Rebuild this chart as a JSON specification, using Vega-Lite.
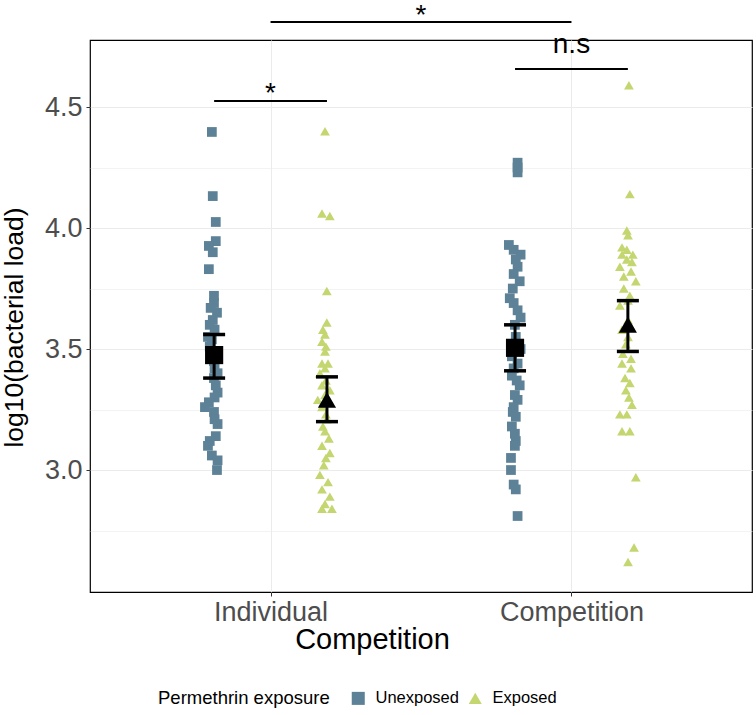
{
  "$schema": "https://vega.github.io/schema/vega-lite/v6.json",
  "width": 662,
  "height": 552,
  "autosize": "none",
  "padding": {"left": 90, "top": 40, "right": 4, "bottom": 123},
  "config": {
    "font": "Liberation Sans",
    "view": {"stroke": "#000000", "strokeWidth": 1.2},
    "axis": {"domain": false, "gridColor": "#ebebeb", "tickColor": "#333333", "tickSize": 4, "labelColor": "#4d4d4d", "labelFontSize": 27, "titleFontSize": 25, "titleFontWeight": "normal", "titleColor": "#000000"}
  },
  "datasets": {
    "points": [
      {"c": "Individual", "e": "Unexposed", "x": 0.805, "y": 4.397},
      {"c": "Individual", "e": "Unexposed", "x": 0.808, "y": 4.132},
      {"c": "Individual", "e": "Unexposed", "x": 0.818, "y": 4.025},
      {"c": "Individual", "e": "Unexposed", "x": 0.818, "y": 3.946},
      {"c": "Individual", "e": "Unexposed", "x": 0.795, "y": 3.926},
      {"c": "Individual", "e": "Unexposed", "x": 0.808, "y": 3.90},
      {"c": "Individual", "e": "Unexposed", "x": 0.795, "y": 3.83},
      {"c": "Individual", "e": "Unexposed", "x": 0.812, "y": 3.72},
      {"c": "Individual", "e": "Unexposed", "x": 0.812, "y": 3.69},
      {"c": "Individual", "e": "Unexposed", "x": 0.801, "y": 3.67},
      {"c": "Individual", "e": "Unexposed", "x": 0.822, "y": 3.65},
      {"c": "Individual", "e": "Unexposed", "x": 0.808, "y": 3.62},
      {"c": "Individual", "e": "Unexposed", "x": 0.798, "y": 3.60},
      {"c": "Individual", "e": "Unexposed", "x": 0.814, "y": 3.58},
      {"c": "Individual", "e": "Unexposed", "x": 0.792, "y": 3.55},
      {"c": "Individual", "e": "Unexposed", "x": 0.805, "y": 3.54},
      {"c": "Individual", "e": "Unexposed", "x": 0.798, "y": 3.51},
      {"c": "Individual", "e": "Unexposed", "x": 0.818, "y": 3.48},
      {"c": "Individual", "e": "Unexposed", "x": 0.812, "y": 3.45},
      {"c": "Individual", "e": "Unexposed", "x": 0.814, "y": 3.42},
      {"c": "Individual", "e": "Unexposed", "x": 0.824, "y": 3.40},
      {"c": "Individual", "e": "Unexposed", "x": 0.812, "y": 3.38},
      {"c": "Individual", "e": "Unexposed", "x": 0.818, "y": 3.35},
      {"c": "Individual", "e": "Unexposed", "x": 0.824, "y": 3.32},
      {"c": "Individual", "e": "Unexposed", "x": 0.814, "y": 3.30},
      {"c": "Individual", "e": "Unexposed", "x": 0.795, "y": 3.28},
      {"c": "Individual", "e": "Unexposed", "x": 0.782, "y": 3.26},
      {"c": "Individual", "e": "Unexposed", "x": 0.812, "y": 3.24},
      {"c": "Individual", "e": "Unexposed", "x": 0.814, "y": 3.21},
      {"c": "Individual", "e": "Unexposed", "x": 0.824, "y": 3.19},
      {"c": "Individual", "e": "Unexposed", "x": 0.818, "y": 3.14},
      {"c": "Individual", "e": "Unexposed", "x": 0.798, "y": 3.12},
      {"c": "Individual", "e": "Unexposed", "x": 0.792, "y": 3.10},
      {"c": "Individual", "e": "Unexposed", "x": 0.805, "y": 3.06},
      {"c": "Individual", "e": "Unexposed", "x": 0.824, "y": 3.04},
      {"c": "Individual", "e": "Unexposed", "x": 0.822, "y": 3.00},
      {"c": "Individual", "e": "Exposed", "x": 1.181, "y": 4.40},
      {"c": "Individual", "e": "Exposed", "x": 1.171, "y": 4.06},
      {"c": "Individual", "e": "Exposed", "x": 1.197, "y": 4.05},
      {"c": "Individual", "e": "Exposed", "x": 1.187, "y": 3.74},
      {"c": "Individual", "e": "Exposed", "x": 1.187, "y": 3.61},
      {"c": "Individual", "e": "Exposed", "x": 1.174, "y": 3.58},
      {"c": "Individual", "e": "Exposed", "x": 1.181, "y": 3.56},
      {"c": "Individual", "e": "Exposed", "x": 1.171, "y": 3.53},
      {"c": "Individual", "e": "Exposed", "x": 1.184, "y": 3.51},
      {"c": "Individual", "e": "Exposed", "x": 1.181, "y": 3.49},
      {"c": "Individual", "e": "Exposed", "x": 1.171, "y": 3.44},
      {"c": "Individual", "e": "Exposed", "x": 1.191, "y": 3.44},
      {"c": "Individual", "e": "Exposed", "x": 1.181, "y": 3.42},
      {"c": "Individual", "e": "Exposed", "x": 1.164, "y": 3.40},
      {"c": "Individual", "e": "Exposed", "x": 1.184, "y": 3.37},
      {"c": "Individual", "e": "Exposed", "x": 1.171, "y": 3.35},
      {"c": "Individual", "e": "Exposed", "x": 1.197, "y": 3.33},
      {"c": "Individual", "e": "Exposed", "x": 1.181, "y": 3.31},
      {"c": "Individual", "e": "Exposed", "x": 1.157, "y": 3.29},
      {"c": "Individual", "e": "Exposed", "x": 1.171, "y": 3.26},
      {"c": "Individual", "e": "Exposed", "x": 1.184, "y": 3.23},
      {"c": "Individual", "e": "Exposed", "x": 1.187, "y": 3.21},
      {"c": "Individual", "e": "Exposed", "x": 1.174, "y": 3.18},
      {"c": "Individual", "e": "Exposed", "x": 1.181, "y": 3.16},
      {"c": "Individual", "e": "Exposed", "x": 1.194, "y": 3.13},
      {"c": "Individual", "e": "Exposed", "x": 1.171, "y": 3.10},
      {"c": "Individual", "e": "Exposed", "x": 1.197, "y": 3.07},
      {"c": "Individual", "e": "Exposed", "x": 1.184, "y": 3.05},
      {"c": "Individual", "e": "Exposed", "x": 1.177, "y": 3.02},
      {"c": "Individual", "e": "Exposed", "x": 1.164, "y": 2.98},
      {"c": "Individual", "e": "Exposed", "x": 1.191, "y": 2.95},
      {"c": "Individual", "e": "Exposed", "x": 1.171, "y": 2.92},
      {"c": "Individual", "e": "Exposed", "x": 1.197, "y": 2.89},
      {"c": "Individual", "e": "Exposed", "x": 1.181, "y": 2.86},
      {"c": "Individual", "e": "Exposed", "x": 1.171, "y": 2.84},
      {"c": "Individual", "e": "Exposed", "x": 1.204, "y": 2.84},
      {"c": "Competition", "e": "Unexposed", "x": 1.821, "y": 4.27},
      {"c": "Competition", "e": "Unexposed", "x": 1.821, "y": 4.25},
      {"c": "Competition", "e": "Unexposed", "x": 1.821, "y": 4.23},
      {"c": "Competition", "e": "Unexposed", "x": 1.792, "y": 3.93},
      {"c": "Competition", "e": "Unexposed", "x": 1.808, "y": 3.91},
      {"c": "Competition", "e": "Unexposed", "x": 1.831, "y": 3.89},
      {"c": "Competition", "e": "Unexposed", "x": 1.815, "y": 3.87},
      {"c": "Competition", "e": "Unexposed", "x": 1.821, "y": 3.84},
      {"c": "Competition", "e": "Unexposed", "x": 1.808, "y": 3.81},
      {"c": "Competition", "e": "Unexposed", "x": 1.828, "y": 3.78},
      {"c": "Competition", "e": "Unexposed", "x": 1.805, "y": 3.75},
      {"c": "Competition", "e": "Unexposed", "x": 1.795, "y": 3.71},
      {"c": "Competition", "e": "Unexposed", "x": 1.808, "y": 3.69},
      {"c": "Competition", "e": "Unexposed", "x": 1.821, "y": 3.66},
      {"c": "Competition", "e": "Unexposed", "x": 1.831, "y": 3.63},
      {"c": "Competition", "e": "Unexposed", "x": 1.812, "y": 3.60},
      {"c": "Competition", "e": "Unexposed", "x": 1.815, "y": 3.55},
      {"c": "Competition", "e": "Unexposed", "x": 1.831, "y": 3.50},
      {"c": "Competition", "e": "Unexposed", "x": 1.802, "y": 3.47},
      {"c": "Competition", "e": "Unexposed", "x": 1.821, "y": 3.44},
      {"c": "Competition", "e": "Unexposed", "x": 1.808, "y": 3.42},
      {"c": "Competition", "e": "Unexposed", "x": 1.802, "y": 3.39},
      {"c": "Competition", "e": "Unexposed", "x": 1.818, "y": 3.37},
      {"c": "Competition", "e": "Unexposed", "x": 1.828, "y": 3.35},
      {"c": "Competition", "e": "Unexposed", "x": 1.812, "y": 3.31},
      {"c": "Competition", "e": "Unexposed", "x": 1.821, "y": 3.29},
      {"c": "Competition", "e": "Unexposed", "x": 1.808, "y": 3.26},
      {"c": "Competition", "e": "Unexposed", "x": 1.805, "y": 3.24},
      {"c": "Competition", "e": "Unexposed", "x": 1.815, "y": 3.22},
      {"c": "Competition", "e": "Unexposed", "x": 1.802, "y": 3.18},
      {"c": "Competition", "e": "Unexposed", "x": 1.812, "y": 3.15},
      {"c": "Competition", "e": "Unexposed", "x": 1.815, "y": 3.12},
      {"c": "Competition", "e": "Unexposed", "x": 1.812, "y": 3.10},
      {"c": "Competition", "e": "Unexposed", "x": 1.799, "y": 3.05},
      {"c": "Competition", "e": "Unexposed", "x": 1.799, "y": 3.00},
      {"c": "Competition", "e": "Unexposed", "x": 1.808, "y": 2.94},
      {"c": "Competition", "e": "Unexposed", "x": 1.815, "y": 2.92},
      {"c": "Competition", "e": "Unexposed", "x": 1.821, "y": 2.81},
      {"c": "Competition", "e": "Exposed", "x": 2.191, "y": 4.59},
      {"c": "Competition", "e": "Exposed", "x": 2.194, "y": 4.14},
      {"c": "Competition", "e": "Exposed", "x": 2.184, "y": 3.99},
      {"c": "Competition", "e": "Exposed", "x": 2.188, "y": 3.97},
      {"c": "Competition", "e": "Exposed", "x": 2.168, "y": 3.92},
      {"c": "Competition", "e": "Exposed", "x": 2.184, "y": 3.91},
      {"c": "Competition", "e": "Exposed", "x": 2.168, "y": 3.89},
      {"c": "Competition", "e": "Exposed", "x": 2.204, "y": 3.89},
      {"c": "Competition", "e": "Exposed", "x": 2.184, "y": 3.87},
      {"c": "Competition", "e": "Exposed", "x": 2.201, "y": 3.86},
      {"c": "Competition", "e": "Exposed", "x": 2.161, "y": 3.84},
      {"c": "Competition", "e": "Exposed", "x": 2.198, "y": 3.82},
      {"c": "Competition", "e": "Exposed", "x": 2.174, "y": 3.80},
      {"c": "Competition", "e": "Exposed", "x": 2.214, "y": 3.78},
      {"c": "Competition", "e": "Exposed", "x": 2.174, "y": 3.75},
      {"c": "Competition", "e": "Exposed", "x": 2.194, "y": 3.72},
      {"c": "Competition", "e": "Exposed", "x": 2.188, "y": 3.70},
      {"c": "Competition", "e": "Exposed", "x": 2.161, "y": 3.68},
      {"c": "Competition", "e": "Exposed", "x": 2.188, "y": 3.62},
      {"c": "Competition", "e": "Exposed", "x": 2.194, "y": 3.60},
      {"c": "Competition", "e": "Exposed", "x": 2.168, "y": 3.58},
      {"c": "Competition", "e": "Exposed", "x": 2.188, "y": 3.55},
      {"c": "Competition", "e": "Exposed", "x": 2.181, "y": 3.52},
      {"c": "Competition", "e": "Exposed", "x": 2.171, "y": 3.48},
      {"c": "Competition", "e": "Exposed", "x": 2.198, "y": 3.46},
      {"c": "Competition", "e": "Exposed", "x": 2.168, "y": 3.44},
      {"c": "Competition", "e": "Exposed", "x": 2.198, "y": 3.42},
      {"c": "Competition", "e": "Exposed", "x": 2.178, "y": 3.38},
      {"c": "Competition", "e": "Exposed", "x": 2.194, "y": 3.36},
      {"c": "Competition", "e": "Exposed", "x": 2.181, "y": 3.33},
      {"c": "Competition", "e": "Exposed", "x": 2.191, "y": 3.30},
      {"c": "Competition", "e": "Exposed", "x": 2.201, "y": 3.27},
      {"c": "Competition", "e": "Exposed", "x": 2.161, "y": 3.23},
      {"c": "Competition", "e": "Exposed", "x": 2.184, "y": 3.23},
      {"c": "Competition", "e": "Exposed", "x": 2.168, "y": 3.16},
      {"c": "Competition", "e": "Exposed", "x": 2.194, "y": 3.16},
      {"c": "Competition", "e": "Exposed", "x": 2.214, "y": 2.97},
      {"c": "Competition", "e": "Exposed", "x": 2.208, "y": 2.68},
      {"c": "Competition", "e": "Exposed", "x": 2.188, "y": 2.62}
    ],
    "means": [
      {"c": "Individual", "e": "Unexposed", "x": 0.8125, "mean": 3.475, "lo": 3.38, "hi": 3.56},
      {"c": "Individual", "e": "Exposed", "x": 1.1875, "mean": 3.29, "lo": 3.20, "hi": 3.385},
      {"c": "Competition", "e": "Unexposed", "x": 1.8125, "mean": 3.505, "lo": 3.41, "hi": 3.60},
      {"c": "Competition", "e": "Exposed", "x": 2.1875, "mean": 3.60, "lo": 3.49, "hi": 3.70}
    ],
    "brackets": [
      {"x1": 1.0, "x2": 2.0, "y": 4.851},
      {"x1": 1.8125, "x2": 2.1875, "y": 4.657},
      {"x1": 0.8125, "x2": 1.1875, "y": 4.525}
    ],
    "labels": [
      {"label": "*", "lx": 1.5, "ly": 4.878},
      {"label": "n.s", "lx": 2.0, "ly": 4.756},
      {"label": "*", "lx": 1.0, "ly": 4.552}
    ]
  },
  "layer": [
    {
      "data": {"name": "points"},
      "mark": {"type": "point", "filled": true, "opacity": 1, "size": 95},
      "encoding": {
        "x": {"field": "x", "type": "quantitative", "scale": {"domain": [0.4, 2.6], "nice": false, "zero": false},
              "axis": {"values": [1, 2], "labelExpr": "datum.value == 1 ? 'Individual' : 'Competition'", "title": "Competition", "labelPadding": 3, "titlePadding": 0, "titleFontSize": 29, "titleX": 282, "titleAlign": "center"}},
        "y": {"field": "y", "type": "quantitative", "scale": {"domain": [2.496, 4.777], "nice": false, "zero": false},
              "axis": {"values": [2.75, 3, 3.25, 3.5, 3.75, 4, 4.25, 4.5], "labelExpr": "(datum.value*2)%1 == 0 ? format(datum.value, '.1f') : ''",
                       "gridWidth": {"condition": {"test": "(datum.value*2)%1 == 0", "value": 1.1}, "value": 0.6},
                       "tickColor": {"condition": {"test": "(datum.value*2)%1 == 0", "value": "#333333"}, "value": "transparent"},
                       "title": "log10(bacterial load)", "titleFontSize": 26.5, "labelPadding": 4, "titlePadding": 16, "titleY": 287, "titleAlign": "center"}},
        "color": {"field": "e", "type": "nominal", "scale": {"domain": ["Unexposed", "Exposed"], "range": ["#5d8297", "#c3d66f"]},
                  "legend": {"title": "Permethrin exposure", "orient": "none", "legendX": 68, "legendY": 650, "direction": "horizontal", "titleOrient": "left", "titleFontSize": 18.5, "titleFontWeight": "normal", "titleColor": "#000000", "labelFontSize": 16.5, "labelColor": "#000000", "symbolSize": 170, "symbolStrokeWidth": 0, "columnPadding": 8, "titlePadding": 20, "labelOffset": 9, "titleBaseline": "middle"}},
        "shape": {"field": "e", "type": "nominal", "scale": {"domain": ["Unexposed", "Exposed"], "range": ["square", "triangle-up"]}}
      }
    },
    {
      "data": {"name": "means"},
      "mark": {"type": "rule", "color": "#000000", "strokeWidth": 3},
      "encoding": {"x": {"field": "x", "type": "quantitative"}, "y": {"field": "lo", "type": "quantitative"}, "y2": {"field": "hi"}}
    },
    {
      "data": {"name": "means"},
      "mark": {"type": "tick", "orient": "horizontal", "color": "#000000", "size": 22, "thickness": 3.5, "opacity": 1},
      "encoding": {"x": {"field": "x", "type": "quantitative"}, "y": {"field": "lo", "type": "quantitative"}}
    },
    {
      "data": {"name": "means"},
      "mark": {"type": "tick", "orient": "horizontal", "color": "#000000", "size": 22, "thickness": 3.5, "opacity": 1},
      "encoding": {"x": {"field": "x", "type": "quantitative"}, "y": {"field": "hi", "type": "quantitative"}}
    },
    {
      "data": {"name": "means"},
      "mark": {"type": "point", "filled": true, "color": "#000000", "opacity": 1, "size": 330},
      "encoding": {"x": {"field": "x", "type": "quantitative"}, "y": {"field": "mean", "type": "quantitative"},
                   "shape": {"field": "e", "type": "nominal", "legend": null}}
    },
    {
      "data": {"name": "brackets"},
      "mark": {"type": "rule", "color": "#000000", "strokeWidth": 2},
      "encoding": {"x": {"field": "x1", "type": "quantitative"}, "x2": {"field": "x2"}, "y": {"field": "y", "type": "quantitative"}}
    },
    {
      "data": {"name": "labels"},
      "mark": {"type": "text", "fontSize": 28, "color": "#000000", "baseline": "middle", "align": "center"},
      "encoding": {"x": {"field": "lx", "type": "quantitative"}, "y": {"field": "ly", "type": "quantitative"}, "text": {"field": "label"}}
    }
  ]
}
